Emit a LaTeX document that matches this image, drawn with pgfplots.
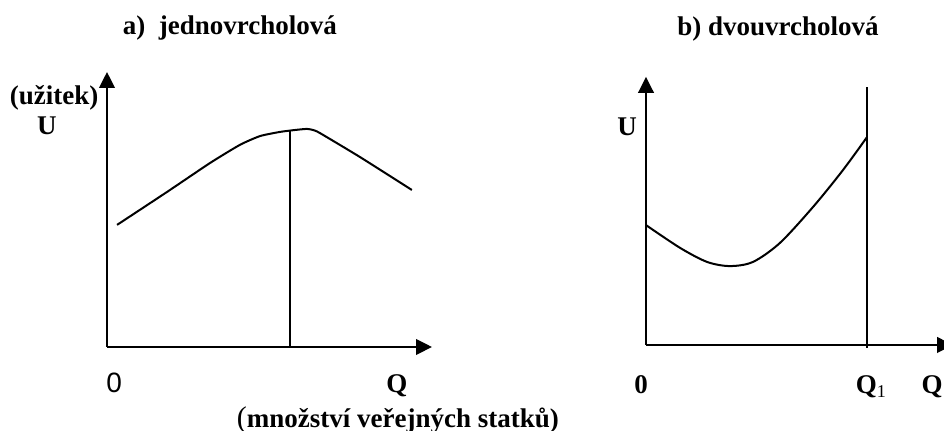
\documentclass[border=0pt]{standalone}
\usepackage{fontspec}
\setmainfont{Liberation Serif}
\newfontfamily\arial{Liberation Sans}
\usepackage{pgfplots}
\pgfplotsset{compat=1.18}
\usetikzlibrary{arrows.meta}

% 1 px of the reference = 0.5pt
\pgfplotsset{
  panel/.style={
    axis lines=left,
    axis line style={line width=1pt, -{Triangle[length=8pt,width=7.8pt]}},
    x=16.25pt, y=13.75pt,
    xmin=0, ymin=0,
    xtick=\empty, ytick=\empty,
    clip=false,
    anchor=south west,
  },
}
\tikzset{lbl/.style={font=\fontsize{13.5}{16}\selectfont\bfseries, anchor=base, inner sep=0pt}}

\begin{document}
\begin{tikzpicture}
\useasboundingbox (0,0) rectangle (472pt,215.5pt);

% a) jednovrcholova
\begin{axis}[panel, at={(53.5pt,42pt)}, xmax=10, ymax=10]
\addplot[black, line width=1pt, smooth, tension=0.35] coordinates {
  (0.31,4.44) (1.85,5.64) (3.17,6.69) (4.09,7.35) (4.71,7.67)
  (5.32,7.82) (5.78,7.89) (6.15,7.93) (6.34,7.89) (6.55,7.78)
  (7.78,6.91) (9.38,5.71)
};
\addplot[black, line width=0.75pt] coordinates {(5.63,0) (5.63,7.87)};
\node[lbl] at (axis cs:3.78,11.35) {a)~ jednovrcholová};
\node[lbl] at (axis cs:-1.63,8.8) {(užitek)};
\node[lbl] at (axis cs:-1.85,7.71) {U};
\node[lbl, font=\fontsize{14}{16}\selectfont\mdseries\arial] at (axis cs:0.22,-1.67) {0};
\node[lbl] at (axis cs:8.92,-1.67) {Q};
\node[lbl] at (axis cs:8.95,-2.91) {{\mdseries\fontsize{15}{16}\selectfont(}množství veřejných statků)};
\end{axis}

% b) dvouvrcholova
\begin{axis}[panel, at={(323pt,43pt)}, xmax=9.45, ymax=9.75]
\addplot[black, line width=1pt, smooth] coordinates {
  (0,4.36) (1.05,3.53) (1.88,3.02) (2.58,2.87) (3.29,3.02)
  (4.12,3.71) (5.14,5.02) (6.06,6.36) (6.80,7.56)
};
\addplot[black, line width=0.75pt] coordinates {(6.8,-0.1) (6.8,9.38)};
\node[lbl] at (axis cs:4.06,11.24) {b) dvouvrcholová};
\node[lbl] at (axis cs:-0.58,7.6) {U};
\node[lbl] at (axis cs:-0.15,-1.75) {0};
\node[lbl] at (axis cs:6.92,-1.75) {Q\raisebox{-0.35ex}{\mdseries\fontsize{9}{9}\selectfont 1}};
\node[lbl] at (axis cs:8.8,-1.75) {Q};
\end{axis}
\end{tikzpicture}
\end{document}
